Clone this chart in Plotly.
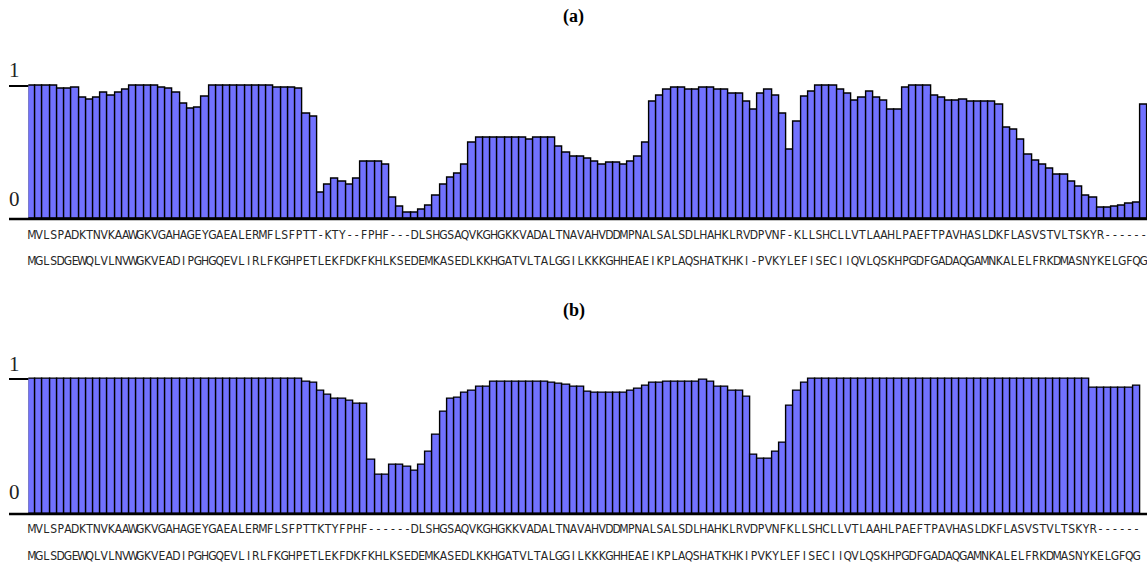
import plotly.graph_objects as go

# ---------------- data ----------------
seq_a_top = "MVLSPADKTNVKAAWGKVGAHAGEYGAEALERMFLSFPTT-KTY--FPHF---DLSHGSAQVKGHGKKVADALTNAVAHVDDMPNALSALSDLHAHKLRVDPVNF-KLLSHCLLVTLAAHLPAEFTPAVHASLDKFLASVSTVLTSKYR------"
seq_a_bot = "MGLSDGEWQLVLNVWGKVEADIPGHGQEVLIRLFKGHPETLEKFDKFKHLKSEDEMKASEDLKKHGATVLTALGGILKKKGHHEAEIKPLAQSHATKHKI-PVKYLEFISECIIQVLQSKHPGDFGADAQGAMNKALELFRKDMASNYKELGFQG"
seq_b_top = "MVLSPADKTNVKAAWGKVGAHAGEYGAEALERMFLSFPTTKTYFPHF------DLSHGSAQVKGHGKKVADALTNAVAHVDDMPNALSALSDLHAHKLRVDPVNFKLLSHCLLVTLAAHLPAEFTPAVHASLDKFLASVSTVLTSKYR------"
seq_b_bot = "MGLSDGEWQLVLNVWGKVEADIPGHGQEVLIRLFKGHPETLEKFDKFKHLKSEDEMKASEDLKKHGATVLTALGGILKKKGHHEAEIKPLAQSHATKHKIPVKYLEFISECIIQVLQSKHPGDFGADAQGAMNKALELFRKDMASNYKELGFQG"

vals_a = [
    1.0, 1.0, 1.0, 1.0, 0.98, 0.98, 0.99, 0.91, 0.90, 0.91,
    0.95, 0.925, 0.95, 0.975, 1.0, 1.0, 1.0, 1.0, 0.99, 0.98,
    0.95, 0.865, 0.83, 0.84, 0.92, 1.0, 1.0, 1.0, 1.0, 1.0,
    1.0, 1.0, 1.0, 1.0, 0.99, 0.99, 0.99, 0.98, 0.79, 0.77,
    0.20, 0.26, 0.305, 0.28, 0.26, 0.305, 0.43, 0.43, 0.43, 0.405,
    0.16, 0.09, 0.05, 0.05, 0.07, 0.10, 0.175, 0.255, 0.31, 0.34,
    0.41, 0.57, 0.61, 0.61, 0.615, 0.615, 0.61, 0.61, 0.61, 0.60,
    0.61, 0.61, 0.61, 0.54, 0.50, 0.465, 0.465, 0.45, 0.43, 0.41,
    0.42, 0.42, 0.41, 0.43, 0.465, 0.57, 0.88, 0.925, 0.97, 0.985,
    0.985, 0.975, 0.97, 0.985, 0.985, 0.975, 0.975, 0.94, 0.94, 0.88,
    0.82, 0.94, 0.97, 0.925, 0.79, 0.52, 0.73, 0.92, 0.955, 1.0,
    1.0, 1.0, 0.97, 0.94, 0.89, 0.91, 0.955, 0.91, 0.89, 0.82,
    0.82, 0.985, 1.0, 1.0, 1.0, 0.925, 0.91, 0.89, 0.89, 0.895,
    0.88, 0.88, 0.88, 0.88, 0.86, 0.69, 0.67, 0.60, 0.48, 0.44,
    0.41, 0.38, 0.33, 0.33, 0.28, 0.24, 0.175, 0.16, 0.085, 0.085,
    0.09, 0.10, 0.115, 0.12, 0.86,
]

vals_b = [
    1.0, 1.0, 1.0, 1.0, 1.0, 1.0, 1.0, 1.0, 1.0, 1.0,
    1.0, 1.0, 1.0, 1.0, 1.0, 1.0, 1.0, 1.0, 1.0, 1.0,
    1.0, 1.0, 1.0, 1.0, 1.0, 1.0, 1.0, 1.0, 1.0, 1.0,
    1.0, 1.0, 1.0, 1.0, 1.0, 1.0, 1.0, 1.0, 0.98, 0.97,
    0.915, 0.885, 0.855, 0.855, 0.835, 0.82, 0.82, 0.40, 0.29, 0.29,
    0.365, 0.365, 0.35, 0.32, 0.365, 0.46, 0.59, 0.76, 0.85, 0.86,
    0.895, 0.915, 0.94, 0.945, 0.98, 0.98, 0.98, 0.98, 0.98, 0.98,
    0.98, 0.98, 0.975, 0.965, 0.955, 0.945, 0.94, 0.905, 0.895, 0.895,
    0.895, 0.895, 0.895, 0.91, 0.925, 0.95, 0.97, 0.975, 0.983, 0.983,
    0.983, 0.983, 0.983, 0.995, 0.983, 0.94, 0.94, 0.915, 0.91, 0.865,
    0.435, 0.41, 0.41, 0.46, 0.525, 0.80, 0.91, 0.97, 1.0, 1.0,
    1.0, 1.0, 1.0, 1.0, 1.0, 1.0, 1.0, 1.0, 1.0, 1.0,
    1.0, 1.0, 1.0, 1.0, 1.0, 1.0, 1.0, 1.0, 1.0, 1.0,
    1.0, 1.0, 1.0, 1.0, 1.0, 1.0, 1.0, 1.0, 1.0, 1.0,
    1.0, 1.0, 1.0, 1.0, 1.0, 1.0, 1.0, 0.935, 0.935, 0.935,
    0.935, 0.935, 0.935, 0.95,
]

panel_titles = ["(a)", "(b)"]
tick_vals = [0, 1]
tick_labels = ["0", "1"]

# ---------------- layout constants (page pixels) ----------------
W, H = 1147, 565


def fx(px):  # page x pixel -> paper fraction
    return px / W


def fy(py):  # page y pixel -> paper fraction
    return 1 - py / H


X_LEFT = 28.3          # page x of the left edge of the first bar
BAR_PX = 7.22          # width of one alignment column
TICK_X0 = 9            # left end of tick lines
BAR_COLOR = "#7272ff"
SEQ_FONT = "DejaVu Sans Condensed, Liberation Sans Narrow, Liberation Sans, sans-serif"
SERIF = "Liberation Serif, DejaVu Serif, serif"

panels = [
    dict(vals=vals_a, top=seq_a_top, bot=seq_a_bot, base_px=219.0, one_px=86.0,
         row1=17.5, row2=43.5, title_px=17, lab1_px=70, lab0_px=199, rng=(-0.45, 1.1)),
    dict(vals=vals_b, top=seq_b_top, bot=seq_b_bot, base_px=514.0, one_px=379.0,
         row1=16.5, row2=43.0, title_px=310, lab1_px=364, lab0_px=492, rng=(-0.36, 1.12)),
]

fig = go.Figure()
x_range = [-0.5, -0.5 + (W - X_LEFT) / BAR_PX]
shapes = []
annotations = []

for k, p in enumerate(panels):
    xa = "x" if k == 0 else "x2"
    ya = "y" if k == 0 else "y2"
    n = len(p["vals"])
    idx = list(range(n))
    scale = p["base_px"] - p["one_px"]  # px per unit
    fig.add_trace(go.Bar(
        x=idx, y=p["vals"], width=1.0, xaxis=xa, yaxis=ya,
        marker=dict(color=BAR_COLOR, line=dict(color="black", width=1.4)),
        showlegend=False, hoverinfo="skip", cliponaxis=False,
    ))
    for seq, off in ((p["top"], p["row1"]), (p["bot"], p["row2"])):
        m = len(seq)
        fig.add_trace(go.Scatter(
            x=list(range(m)), y=[-off / scale] * m, mode="text", text=list(seq),
            textfont=dict(family=SEQ_FONT, size=12, color="#262626"),
            xaxis=xa, yaxis=ya, cliponaxis=False, showlegend=False, hoverinfo="skip",
        ))
    lo, hi = p["rng"]
    bottom_px = p["base_px"] - lo * scale
    top_px = p["base_px"] - hi * scale
    dom = [max(0.0, fy(bottom_px)), min(1.0, fy(top_px))]
    axkey = "yaxis" if k == 0 else "yaxis2"
    xkey = "xaxis" if k == 0 else "xaxis2"
    fig.layout[axkey] = dict(domain=dom, range=[lo, hi], visible=False, fixedrange=True)
    fig.layout[xkey] = dict(domain=[fx(X_LEFT), 1], range=x_range, visible=False,
                            fixedrange=True, anchor=ya)
    # baseline (0) and tick at 1
    shapes.append(dict(type="line", xref="paper", yref=ya, x0=fx(TICK_X0), x1=1,
                       y0=tick_vals[0], y1=tick_vals[0], line=dict(color="black", width=2.4)))
    shapes.append(dict(type="line", xref="paper", yref=ya, x0=fx(TICK_X0), x1=fx(X_LEFT),
                       y0=tick_vals[1], y1=tick_vals[1], line=dict(color="black", width=1.8)))
    # y labels
    for lab, py in ((tick_labels[1], p["lab1_px"]), (tick_labels[0], p["lab0_px"])):
        annotations.append(dict(text=lab, xref="paper", yref="paper", x=fx(15), y=fy(py),
                                showarrow=False, xanchor="center", yanchor="middle",
                                font=dict(family=SERIF, size=21, color="#222")))
    annotations.append(dict(text="<b>" + panel_titles[k] + "</b>", xref="paper", yref="paper",
                            x=fx(W / 2), y=fy(p["title_px"]), showarrow=False,
                            xanchor="center", yanchor="middle",
                            font=dict(family=SERIF, size=18, color="black")))

fig.update_layout(
    width=W, height=H, margin=dict(l=0, r=0, t=0, b=0),
    paper_bgcolor="white", plot_bgcolor="white",
    bargap=0, shapes=shapes, annotations=annotations, showlegend=False,
)

fig.write_html(
    "out.html",
    config={"displayModeBar": False},
    post_script="document.body.style.margin='0';document.body.style.overflow='hidden';",
)
